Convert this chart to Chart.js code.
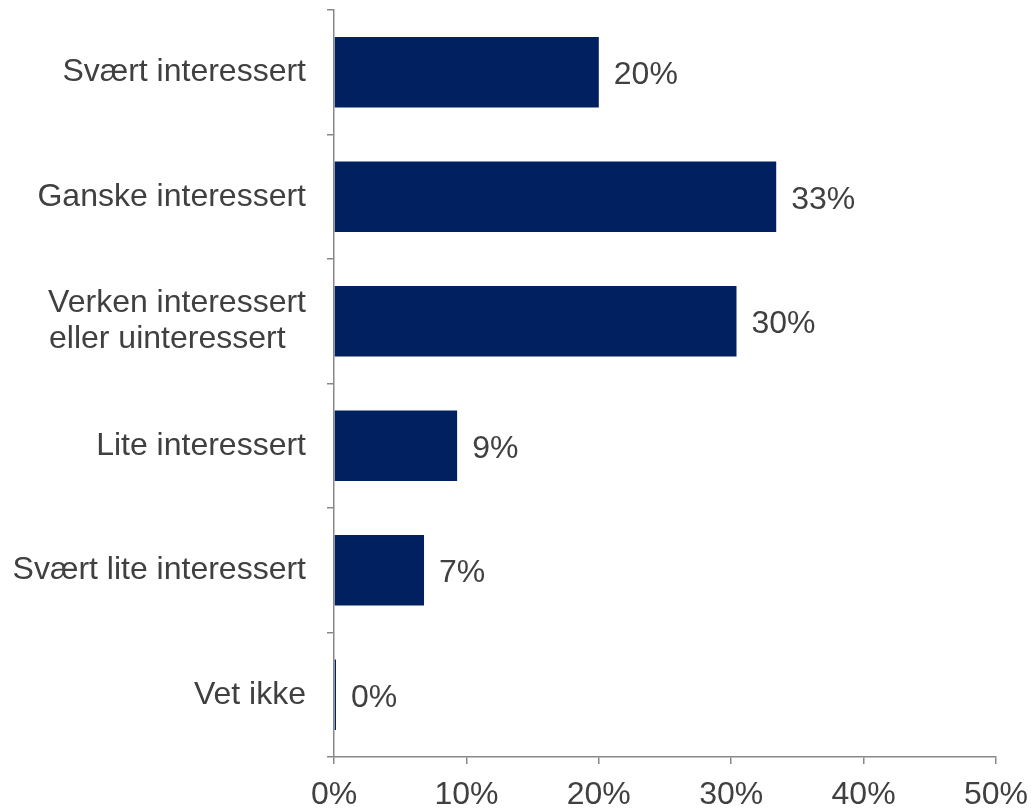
<!DOCTYPE html>
<html>
<head>
<meta charset="utf-8">
<script src="https://cdn.jsdelivr.net/npm/chart.js@4/dist/chart.umd.min.js"></script>
<style>
html,body{margin:0;padding:0;background:#fff;}
#wrap{width:1031px;height:808px;position:relative;}
</style>
</head>
<body>
<div id="wrap"><canvas id="c" width="1031" height="808"></canvas></div>
<script>
const categories = [
  "Svært interessert",
  "Ganske interessert",
  ["Verken interessert", "eller uinteressert  \u200A"],
  "Lite interessert",
  "Svært lite interessert",
  "Vet ikke"
];
const values = [20.0, 33.4, 30.4, 9.3, 6.8, 0.15];
const valueLabels = ["20%", "33%", "30%", "9%", "7%", "0%"];
const xTicks = [0, 10, 20, 30, 40, 50];

const FONT = "'Liberation Sans', Arial, sans-serif";
const TEXT = "#404040";
const AXIS = "#888888";

const valueLabelPlugin = {
  id: 'valueLabels',
  afterDatasetsDraw(chart) {
    const ctx = chart.ctx;
    const meta = chart.getDatasetMeta(0);
    ctx.save();
    ctx.font = "32px " + FONT;
    ctx.fillStyle = TEXT;
    ctx.textAlign = "left";
    ctx.textBaseline = "middle";
    meta.data.forEach((el, i) => {
      ctx.fillText(valueLabels[i], el.x + 15, el.y + 3);
    });
    ctx.restore();
  }
};

new Chart(document.getElementById('c'), {
  type: 'bar',
  data: {
    labels: categories,
    datasets: [{
      data: values,
      backgroundColor: "#002060",
      borderWidth: 0,
      barPercentage: 0.565,
      categoryPercentage: 1.0
    }]
  },
  options: {
    indexAxis: 'y',
    responsive: false,
    animation: false,
    layout: { padding: { top: 10, right: 35, left: 0, bottom: 0 } },
    plugins: { legend: { display: false }, tooltip: { enabled: false } },
    scales: {
      x: {
        min: 0, max: 50,
        afterBuildTicks(axis) { axis.ticks = xTicks.map(v => ({ value: v })); },
        afterFit(axis) { axis.height = 51; axis.paddingLeft = 0; axis.paddingRight = 0; },
        grid: { drawOnChartArea: false, color: AXIS, tickLength: 7, lineWidth: 1.5 },
        border: { color: AXIS, width: 1.5 },
        ticks: {
          color: TEXT,
          font: { family: FONT, size: 32 },
          padding: 12,
          maxRotation: 0,
          callback: (v) => v + "%"
        }
      },
      y: {
        afterFit(axis) { axis.width = 334; axis.paddingTop = 0; axis.paddingBottom = 0; },
        grid: { drawOnChartArea: false, color: AXIS, tickLength: 7, lineWidth: 1.5, offset: true },
        border: { color: AXIS, width: 1.5 },
        ticks: {
          color: TEXT,
          font: { family: FONT, size: 32, lineHeight: 1.15 },
          padding: 21
        }
      }
    }
  },
  plugins: [valueLabelPlugin]
});
</script>
</body>
</html>
